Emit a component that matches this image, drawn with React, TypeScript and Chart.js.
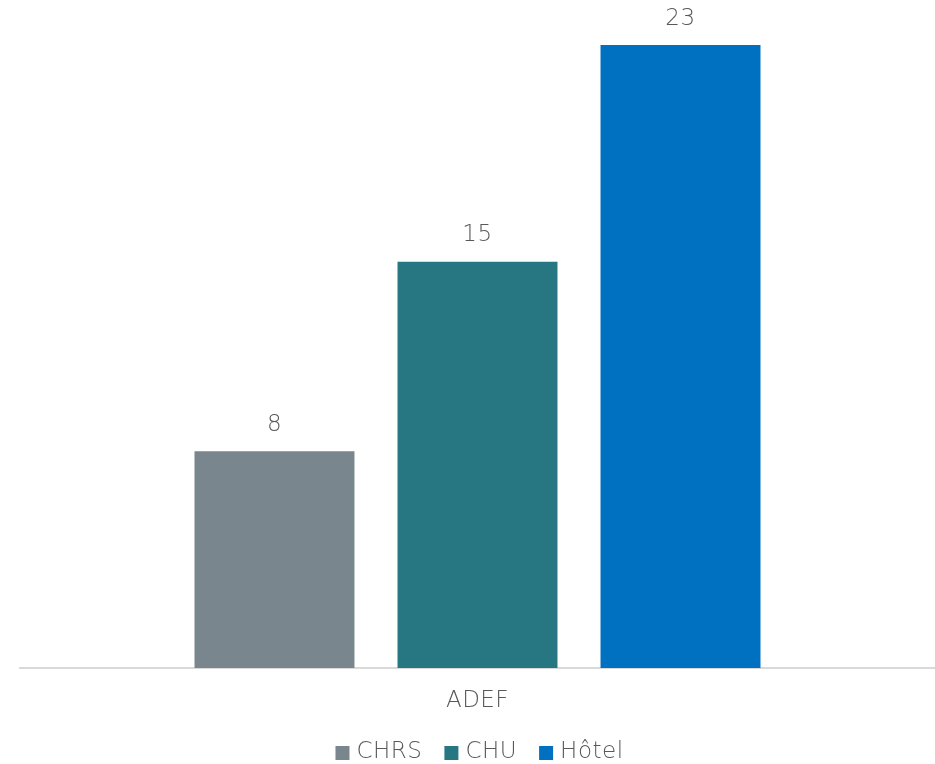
import React, { useEffect, useRef } from "react";
import { Chart, registerables } from "chart.js";

Chart.register(...registerables);

const categories = ["ADEF"];
const seriesNames = ["CHRS", "CHU", "Hôtel"];
const chrsValues = [8];
const chuValues = [15];
const hotelValues = [23];
const seriesColors = ["#7A868E", "#277782", "#0070C0"];

const FONT = "'DejaVu Sans', sans-serif";
const TEXT = "#595959";
const FONT_SIZE = 23;
const WEIGHT = 200;
const SPACING = "0.5px";

const textSpacing = {
  id: "textSpacing",
  beforeUpdate(chart: any) {
    chart.ctx.letterSpacing = SPACING;
  },
  beforeDraw(chart: any) {
    chart.ctx.letterSpacing = SPACING;
  },
};

const valueLabels = {
  id: "valueLabels",
  afterDatasetsDraw(chart: any) {
    const ctx = chart.ctx;
    ctx.save();
    ctx.letterSpacing = SPACING;
    ctx.font = `${WEIGHT} ${FONT_SIZE}px ${FONT}`;
    ctx.fillStyle = TEXT;
    ctx.textAlign = "center";
    ctx.textBaseline = "middle";
    chart.data.datasets.forEach((ds: any, i: number) => {
      const meta = chart.getDatasetMeta(i);
      meta.data.forEach((bar: any, j: number) => {
        ctx.fillText(String(ds.data[j]), bar.x, bar.y - 26.5);
      });
    });
    ctx.restore();
  },
};

const bottomLegend = {
  id: "bottomLegend",
  afterDraw(chart: any) {
    const ctx = chart.ctx;
    ctx.save();
    ctx.letterSpacing = SPACING;
    ctx.font = `${WEIGHT} ${FONT_SIZE}px ${FONT}`;
    ctx.textBaseline = "middle";
    ctx.textAlign = "left";
    const box = 14;
    const gap = 7;
    const itemGap = 22;
    const items = chart.data.datasets.map((ds: any) => ({
      label: ds.label,
      color: ds.backgroundColor,
      w: box + gap + ctx.measureText(ds.label).width,
    }));
    const total = items.reduce((s: number, it: any) => s + it.w, 0) + itemGap * (items.length - 1);
    const cx = (chart.chartArea.left + chart.chartArea.right) / 2 + 2;
    let x = cx - total / 2;
    const y = chart.height - 12;
    items.forEach((it: any) => {
      ctx.fillStyle = it.color;
      ctx.fillRect(x, y - box / 2 + 1, box, box);
      ctx.fillStyle = TEXT;
      ctx.fillText(it.label, x + box + gap, y);
      x += it.w + itemGap;
    });
    ctx.restore();
  },
};

export default function App() {
  const ref = useRef<HTMLCanvasElement>(null);
  useEffect(() => {
    if (!ref.current) return;
    const seriesValues = [chrsValues, chuValues, hotelValues];
    const chart = new Chart(ref.current, {
      type: "bar",
      data: {
        labels: categories,
        datasets: seriesNames.map((name, i) => ({
          label: name,
          data: seriesValues[i],
          backgroundColor: seriesColors[i],
          borderWidth: 0,
          categoryPercentage: 0.6656,
          barPercentage: 0.788,
        })),
      },
      options: {
        animation: false,
        responsive: false,
        maintainAspectRatio: false,
        layout: { padding: { left: 20, right: 0, top: 18, bottom: 0 } },
        scales: {
          x: {
            grid: { display: false, drawTicks: false },
            border: { color: "#D9D9D9", width: 2 },
            ticks: {
              color: TEXT,
              font: { family: FONT, size: FONT_SIZE, weight: WEIGHT as any },
              padding: 19,
            },
            afterFit: (scale: any) => {
              scale.height = 96;
            },
          },
          y: {
            display: false,
            min: 0,
            max: 24,
          },
        },
        plugins: {
          legend: { display: false },
          tooltip: { enabled: false },
        },
      },
      plugins: [textSpacing, valueLabels, bottomLegend],
    });
    return () => chart.destroy();
  }, []);
  return (
    <div style={{ position: "absolute", left: 0, top: 0, width: 935, height: 764 }}>
      <canvas ref={ref} width={935} height={764} style={{ width: 935, height: 764 }} />
    </div>
  );
}
